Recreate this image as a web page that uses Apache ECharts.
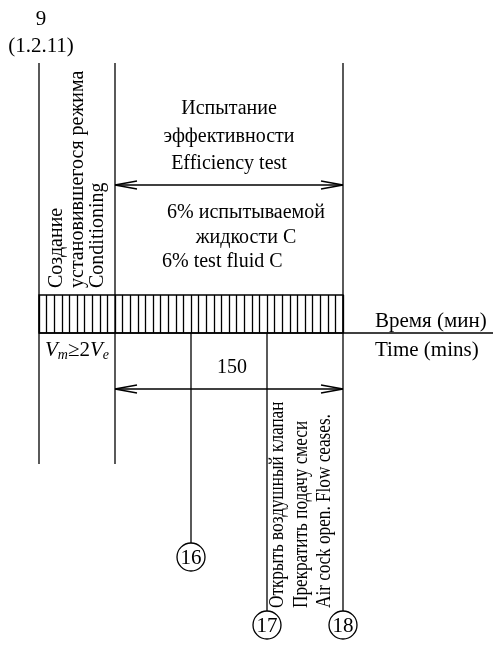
<!DOCTYPE html>
<html>
<head>
<meta charset="utf-8">
<script src="https://cdn.jsdelivr.net/npm/echarts@6/dist/echarts.min.js"></script>
<style>
html, body { margin: 0; padding: 0; background: #fff; }
#chart { width: 493px; height: 648px; }
</style>
</head>
<body>
<div id="chart"></div>
<script>
// время, мин
const phaseBounds = [0, 50, 200];
const eventTimes = [100, 150, 200];
const eventLabels = ['16', '17', '18'];
const hatchStep = 5;
const testSpan = [50, 200];
const testDurationLabel = '150';

const figureNo = ['9', '(1.2.11)'];
const conditioningText = ['Создание', 'установившегося режима', 'Conditioning'];
const testTitle = ['Испытание', 'эффективности', 'Efficiency test'];
const fluidText = ['6% испытываемой', 'жидкости C', '6% test fluid C'];
const stopText = ['Открыть воздушный клапан', 'Прекратить подачу смеси', 'Air cock open. Flow ceases.'];
const axisTitle = ['Время (мин)', 'Time (mins)'];

const FONT = '"Liberation Serif", "Times New Roman", serif';
const LW = 1.3;

const chart = echarts.init(document.getElementById('chart'));

const line = (x1, y1, x2, y2) => ({
  type: 'line',
  shape: { x1, y1, x2, y2 },
  style: { stroke: '#000', lineWidth: LW }
});

const txt = (text, x, y, o) => {
  o = o || {};
  return {
    type: 'text',
    x, y,
    rotation: o.rotation || 0,
    scaleX: o.scaleX || 1,
    style: {
      text,
      fill: '#000',
      fontFamily: FONT,
      fontSize: o.size || 20,
      align: o.align || 'center',
      verticalAlign: 'middle'
    }
  };
};

// двойная стрелка размера
const dimArrow = (x1, x2, y) => [
  line(x1, y, x2, y),
  line(x1, y, x1 + 22, y - 4), line(x1, y, x1 + 22, y + 4),
  line(x2, y, x2 - 22, y - 4), line(x2, y, x2 - 22, y + 4)
];

const px = (api, t) => api.coord([t, 0])[0];

const option = {
  animation: false,
  grid: [
    { left: 39, right: 150, top: 0, bottom: 0 },
    { left: 39, right: 150, top: 295, height: 38, show: true, borderColor: '#000', borderWidth: LW }
  ],
  xAxis: [
    { gridIndex: 0, type: 'value', min: 0, max: 200, show: false },
    {
      gridIndex: 1, type: 'value', min: 0, max: 200, interval: hatchStep,
      axisLine: { show: false }, axisTick: { show: false }, axisLabel: { show: false },
      splitLine: { show: true, lineStyle: { color: '#000', width: 1.3 } }
    }
  ],
  yAxis: [
    { gridIndex: 0, type: 'value', min: 0, max: 648, inverse: true, show: false },
    { gridIndex: 1, type: 'value', min: 0, max: 1, show: false }
  ],
  series: [
    {
      // границы этапов
      type: 'custom',
      xAxisIndex: 0, yAxisIndex: 0,
      data: phaseBounds.map(t => [t]),
      renderItem: (params, api) => {
        const t = api.value(0);
        const x = px(api, t);
        const yEnd = t === phaseBounds[phaseBounds.length - 1] ? 333 : 464;
        return line(x, 63, x, yEnd);
      }
    },
    {
      // ось времени
      type: 'custom',
      xAxisIndex: 1, yAxisIndex: 1,
      data: [[0, 0]],
      renderItem: (params, api) => {
        const p = api.coord([0, 0]);
        return line(p[0], p[1], 493, p[1]);
      }
    },
    {
      // события 16, 17, 18
      type: 'custom',
      xAxisIndex: 0, yAxisIndex: 0,
      data: eventTimes.map((t, i) => [t, i]),
      renderItem: (params, api) => {
        const i = api.value(1);
        const x = px(api, api.value(0));
        const cy = i === 0 ? 557 : 625;
        const r = 14;
        return {
          type: 'group',
          children: [
            line(x, 333, x, cy - r),
            { type: 'circle', shape: { cx: x, cy, r }, style: { fill: '#fff', stroke: '#000', lineWidth: LW } },
            txt(eventLabels[i], x, cy + 1, { size: 21 })
          ]
        };
      }
    },
    {
      // размеры и подписи
      type: 'custom',
      xAxisIndex: 0, yAxisIndex: 0,
      data: [testSpan],
      renderItem: (params, api) => {
        const x1 = px(api, api.value(0));
        const x2 = px(api, api.value(1));
        const x0 = px(api, phaseBounds[0]);
        const xe = px(api, eventTimes[1]);
        const xm = (x1 + x2) / 2;
        const ch = [];
        dimArrow(x1, x2, 185).forEach(e => ch.push(e));
        dimArrow(x1, x2, 389).forEach(e => ch.push(e));
        ch.push(txt(testDurationLabel, 232, 368));

        ch.push(txt(figureNo[0], 41, 19, { size: 21 }));
        ch.push(txt(figureNo[1], 41, 46, { size: 21 }));

        testTitle.forEach((s, k) => ch.push(txt(s, xm, 109 + k * 27.5)));
        ch.push(txt(fluidText[0], 246, 213));
        ch.push(txt(fluidText[1], 246, 238));
        ch.push(txt(fluidText[2], 162, 262, { align: 'left' }));

        conditioningText.forEach((s, k) =>
          ch.push(txt(s, x0 + 18 + k * 20.5, 288, { rotation: Math.PI / 2, align: 'left' })));
        stopText.forEach((s, k) =>
          ch.push(txt(s, xe + 11 + k * 23.5, 608, { rotation: Math.PI / 2, align: 'left', scaleX: 0.86 })));

        ch.push(txt(axisTitle[0], 375, 321, { align: 'left', size: 21 }));
        ch.push(txt(axisTitle[1], 375, 350, { align: 'left', size: 21 }));

        ch.push({
          type: 'text', x: 45, y: 350,
          style: {
            text: '{v|V}{s|m}{n|≥2}{v|V}{s|e}',
            fill: '#000', align: 'left', verticalAlign: 'middle',
            rich: {
              v: { fontFamily: FONT, fontSize: 21, fontStyle: 'italic', lineHeight: 24 },
              s: { fontFamily: FONT, fontSize: 14, fontStyle: 'italic', verticalAlign: 'bottom', lineHeight: 24 },
              n: { fontFamily: FONT, fontSize: 21, lineHeight: 24 }
            }
          }
        });
        return { type: 'group', children: ch };
      }
    }
  ]
};

chart.setOption(option);
</script>
</body>
</html>
